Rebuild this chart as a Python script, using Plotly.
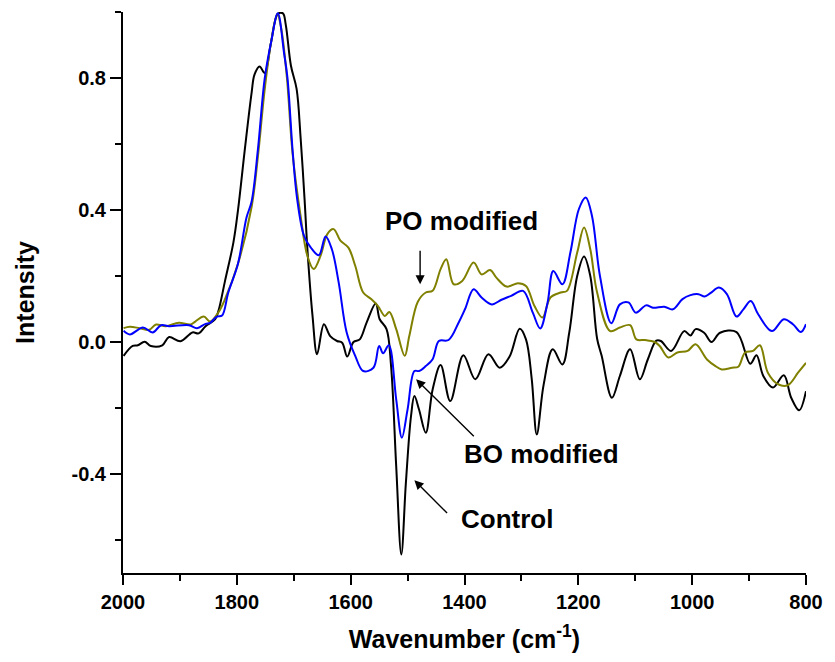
import plotly.graph_objects as go

# Control (black)
control_wn = [1999, 1983, 1974, 1962, 1951, 1931, 1919, 1899, 1878, 1867, 1855, 1838, 1832, 1821,
              1806, 1798, 1786, 1774, 1769, 1760, 1751, 1740, 1728, 1719, 1714, 1705, 1695, 1688,
              1681, 1676, 1667, 1659, 1647, 1636, 1624, 1615, 1606, 1595, 1584, 1572, 1556, 1549,
              1537, 1529, 1520, 1511, 1503, 1494, 1488, 1480, 1468, 1456, 1442, 1425, 1402, 1381,
              1358, 1338, 1321, 1303, 1292, 1282, 1273, 1261, 1245, 1228, 1216, 1202, 1190, 1179,
              1167, 1159, 1141, 1127, 1109, 1092, 1078, 1063, 1055, 1037, 1014, 1003, 994, 979,
              966, 951, 922, 898, 887, 875, 858, 839, 826, 812, 800]
control_int = [-0.042, -0.012, -0.010, 0.001, -0.012, -0.010, 0.015, 0.002, 0.029, 0.026, 0.048,
               0.069, 0.096, 0.183, 0.302, 0.399, 0.583, 0.756, 0.810, 0.835, 0.815, 0.907, 0.994,
               0.996, 0.961, 0.838, 0.767, 0.620, 0.433, 0.281, 0.079, -0.037, 0.054, 0.018, 0.003,
               -0.002, -0.044, 0.000, 0.008, 0.059, 0.117, 0.069, 0.039, -0.073, -0.376, -0.644,
               -0.427, -0.225, -0.164, -0.204, -0.275, -0.144, -0.070, -0.179, -0.040, -0.113,
               -0.037, -0.078, -0.045, 0.040, 0.008, -0.110, -0.280, -0.130, -0.022, -0.068, 0.028,
               0.200, 0.259, 0.200, 0.010, -0.042, -0.169, -0.103, -0.022, -0.113, -0.053, 0.004,
               0.003, -0.027, 0.033, 0.020, 0.039, 0.028, 0.000, 0.028, 0.030, -0.066, -0.040,
               -0.103, -0.138, -0.101, -0.169, -0.207, -0.149]

# BO modified (blue)
bo_wn = [1999, 1988, 1965, 1948, 1933, 1919, 1884, 1870, 1855, 1847, 1835, 1826, 1815, 1798, 1783,
         1774, 1763, 1751, 1740, 1728, 1717, 1711, 1702, 1694, 1682, 1670, 1656, 1644, 1633, 1621,
         1607, 1592, 1578, 1560, 1550, 1543, 1533, 1520, 1510, 1500, 1488, 1480, 1468, 1456, 1445,
         1428, 1410, 1399, 1384, 1370, 1352, 1335, 1318, 1297, 1280, 1267, 1254, 1244, 1228, 1214,
         1199, 1187, 1176, 1162, 1142, 1127, 1112, 1099, 1081, 1069, 1049, 1034, 1017, 1003, 989,
         978, 968, 953, 939, 922, 910, 897, 884, 860, 839, 823, 809, 800]
bo_int = [0.034, 0.023, 0.044, 0.029, 0.051, 0.048, 0.051, 0.042, 0.055, 0.058, 0.077, 0.080, 0.150,
          0.237, 0.377, 0.426, 0.583, 0.799, 0.907, 0.996, 0.875, 0.800, 0.580, 0.433, 0.322, 0.286,
          0.263, 0.320, 0.281, 0.180, 0.029, -0.042, -0.088, -0.078, -0.012, -0.034, -0.010, -0.174,
          -0.290, -0.204, -0.088, -0.088, -0.073, -0.052, 0.003, 0.006, 0.060, 0.100, 0.160, 0.135,
          0.114, 0.128, 0.140, 0.155, 0.089, 0.041, 0.120, 0.215, 0.175, 0.271, 0.403, 0.438, 0.382,
          0.200, 0.057, 0.114, 0.120, 0.089, 0.111, 0.104, 0.107, 0.099, 0.130, 0.142, 0.145, 0.138,
          0.148, 0.165, 0.145, 0.077, 0.099, 0.124, 0.084, 0.033, 0.069, 0.054, 0.030, 0.054]

# PO modified (olive)
po_wn = [1999, 1988, 1971, 1954, 1942, 1925, 1902, 1881, 1873, 1858, 1847, 1832, 1821, 1798, 1774,
         1763, 1751, 1740, 1729, 1722, 1712, 1702, 1688, 1676, 1665, 1653, 1641, 1630, 1618, 1604,
         1592, 1578, 1564, 1552, 1540, 1532, 1520, 1505, 1497, 1482, 1468, 1456, 1442, 1432, 1419,
         1404, 1384, 1370, 1355, 1344, 1326, 1306, 1292, 1277, 1263, 1249, 1231, 1220, 1202, 1190,
         1179, 1167, 1144, 1127, 1109, 1098, 1083, 1066, 1057, 1042, 1026, 1008, 994, 974, 959, 948,
         930, 919, 907, 893, 881, 867, 849, 832, 814, 800]
po_int = [0.042, 0.046, 0.042, 0.037, 0.053, 0.048, 0.058, 0.053, 0.062, 0.077, 0.062, 0.091, 0.129,
          0.237, 0.410, 0.561, 0.766, 0.907, 0.994, 0.950, 0.800, 0.570, 0.382, 0.261, 0.221, 0.261,
          0.327, 0.342, 0.307, 0.286, 0.231, 0.150, 0.130, 0.109, 0.079, 0.091, 0.039, -0.042, 0.018,
          0.122, 0.150, 0.155, 0.221, 0.251, 0.175, 0.185, 0.241, 0.205, 0.218, 0.195, 0.168, 0.178,
          0.170, 0.109, 0.074, 0.135, 0.150, 0.155, 0.271, 0.347, 0.281, 0.150, 0.033, 0.044, 0.051,
          0.008, 0.006, 0.000, -0.012, -0.047, -0.032, -0.027, -0.007, -0.053, -0.073, -0.083,
          -0.078, -0.075, -0.032, -0.027, -0.010, -0.093, -0.128, -0.131, -0.093, -0.063]

x_ticks = [2000, 1800, 1600, 1400, 1200, 1000, 800]
y_ticks = [0.8, 0.4, 0.0, -0.4]
y_tick_labels = ["0.8", "0.4", "0.0", "-0.4"]

FONT = "Liberation Sans, Arial, sans-serif"

fig = go.Figure()
fig.add_trace(go.Scatter(x=control_wn, y=control_int, mode="lines", name="Control",
                         line=dict(color="#000000", width=2, shape="spline", smoothing=1.0)))
fig.add_trace(go.Scatter(x=po_wn, y=po_int, mode="lines", name="PO modified",
                         line=dict(color="#808000", width=2, shape="spline", smoothing=1.0)))
fig.add_trace(go.Scatter(x=bo_wn, y=bo_int, mode="lines", name="BO modified",
                         line=dict(color="#0000FF", width=2, shape="spline", smoothing=1.0)))

# arrows
arrows = [
    dict(x=1478, y=0.175, ax=1478, ay=0.281),   # PO
    dict(x=1485, y=-0.113, ax=1381, ay=-0.290), # BO
    dict(x=1488, y=-0.419, ax=1428, ay=-0.523), # Control
]
for a in arrows:
    fig.add_annotation(x=a["x"], y=a["y"], ax=a["ax"], ay=a["ay"], xref="x", yref="y",
                       axref="x", ayref="y", text="", showarrow=True, arrowhead=2,
                       arrowsize=1.3, arrowwidth=1.4, arrowcolor="#000000")

labels = [
    ("PO modified", 1543, 0.366),
    ("BO modified", 1404, -0.338),
    ("Control", 1409, -0.537),
]
for t, x, y in labels:
    fig.add_annotation(x=x, y=y, xref="x", yref="y", text="<b>%s</b>" % t, showarrow=False,
                       xanchor="left", yanchor="middle",
                       font=dict(family=FONT, size=26, color="#000000"))

fig.update_layout(
    width=835, height=662,
    margin=dict(l=123, r=20, t=12, b=89),
    paper_bgcolor="white", plot_bgcolor="white",
    showlegend=False,
    font=dict(family=FONT, color="#000000"),
)
fig.update_xaxes(
    range=[2000, 800], autorange=False,
    tickvals=x_ticks, ticktext=[str(v) for v in x_ticks],
    ticks="outside", ticklen=10, tickwidth=2, tickcolor="#000000",
    showline=True, linewidth=2, linecolor="#000000", mirror=False,
    showgrid=False, zeroline=False,
    tickfont=dict(family=FONT, size=20, color="#000000", weight="bold"),
    minor=dict(dtick=100, tick0=800, ticks="outside", ticklen=6, tickwidth=2, tickcolor="#000000", showgrid=False),
    title=dict(text="<b>Wavenumber (cm<sup>-1</sup>)</b>", font=dict(family=FONT, size=25, color="#000000"), standoff=18),
)
fig.update_yaxes(
    range=[-0.7, 1.0], autorange=False,
    tickvals=y_ticks, ticktext=y_tick_labels,
    ticks="outside", ticklen=11, tickwidth=2, tickcolor="#000000",
    showline=True, linewidth=2, linecolor="#000000", mirror=False,
    showgrid=False, zeroline=False,
    tickfont=dict(family=FONT, size=20, color="#000000", weight="bold"),
    minor=dict(dtick=0.4, tick0=0.2, ticks="outside", ticklen=6, tickwidth=2, tickcolor="#000000", showgrid=False),
    title=dict(text="<b>Intensity</b>", font=dict(family=FONT, size=25, color="#000000"), standoff=30),
)

fig.write_html("out.html")
